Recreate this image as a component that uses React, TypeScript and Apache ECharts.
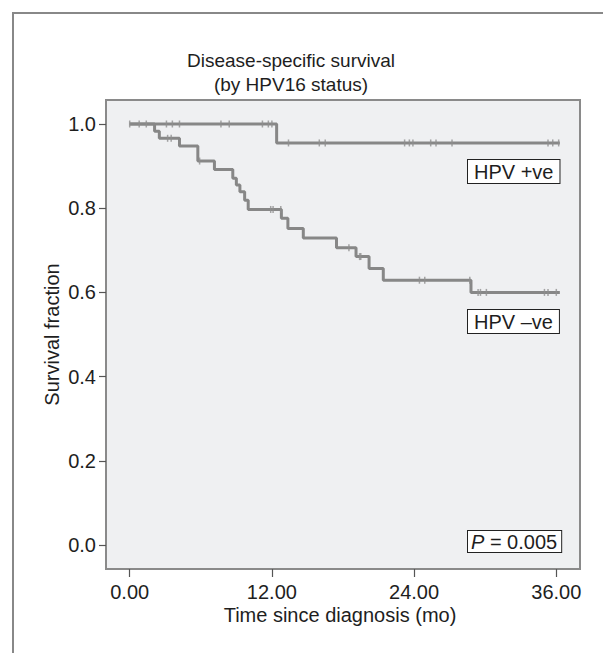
import React, { useEffect, useRef } from 'react';
import * as echarts from 'echarts';

// Axis ticks
const xTicks = [0, 12, 24, 36];
const yTicks = [0, 0.2, 0.4, 0.6, 0.8, 1.0];

// HPV +ve Kaplan-Meier curve (event times in months, survival after event)
const posEventTimes = [12.4];
const posEventSurv = [0.955];
const posEndTime = 36.3;
const posCensorTimes = [0, 3.1, 3.6, 4.2, 7.7, 8.4, 11.2, 11.7, 12.0, 13.4, 16.0, 16.5, 23.2, 23.6, 23.9, 25.4, 25.85, 27.2, 35.3, 35.7, 36.2];

// HPV -ve Kaplan-Meier curve
const negEventTimes = [2.1, 2.5, 4.2, 5.75, 7.15, 8.7, 9.0, 9.3, 9.7, 10.0, 12.8, 13.35, 14.65, 17.45, 19.1, 20.2, 21.4, 28.8];
const negEventSurv = [0.983, 0.966, 0.948, 0.912, 0.892, 0.871, 0.855, 0.839, 0.819, 0.797, 0.776, 0.752, 0.729, 0.706, 0.685, 0.657, 0.629, 0.600];
const negEndTime = 36.3;
const negCensorTimes = [0.8, 1.4, 3.2, 3.5, 5.9, 11.9, 12.1, 12.75, 18.5, 19.4, 19.5, 24.45, 24.9, 28.7, 29.4, 29.6, 30.1, 35.0, 35.3, 36.0];

const titleLines = ['Disease-specific survival', '(by HPV16 status)'];
const xName = 'Time since diagnosis (mo)';
const yName = 'Survival fraction';
const posLabel = 'HPV +ve';
const negLabel = 'HPV \u2013ve';
const pValue = '0.005';

function stepLine(times: number[], surv: number[], end: number) {
  const pts: number[][] = [[0, 1]];
  let prev = 1;
  times.forEach((t, i) => {
    pts.push([t, prev]);
    pts.push([t, surv[i]]);
    prev = surv[i];
  });
  pts.push([end, prev]);
  return pts;
}

function survAt(times: number[], surv: number[], t: number) {
  let s = 1;
  times.forEach((et, i) => {
    if (et <= t) s = surv[i];
  });
  return s;
}

const FONT = '"Liberation Sans", Arial, Helvetica, sans-serif';
const LINE = '#878787';
const TXT = '#1e1e1e';

export default function App() {
  const ref = useRef<HTMLDivElement>(null);
  useEffect(() => {
    if (!ref.current) return;
    const chart = echarts.init(ref.current, undefined, { renderer: 'svg' });
    const posLine = stepLine(posEventTimes, posEventSurv, posEndTime);
    const negLine = stepLine(negEventTimes, negEventSurv, negEndTime);
    const posCens = posCensorTimes.map((t) => [t, survAt(posEventTimes, posEventSurv, t)]);
    const negCens = negCensorTimes.map((t) => [t, survAt(negEventTimes, negEventSurv, t)]);

    const boxStyle = {
      backgroundColor: '#ffffff',
      borderColor: '#222',
      borderWidth: 1,
      fill: TXT,
      font: `20px ${FONT}`,
    };

    chart.setOption({
      animation: false,
      textStyle: { fontFamily: FONT },
      grid: {
        left: 106,
        right: 23,
        top: 100,
        bottom: 84,
        show: true,
        backgroundColor: '#eff0f2',
        borderColor: '#8a8a8a',
        borderWidth: 2,
      },
      xAxis: {
        type: 'value',
        min: -2,
        max: 38,
        name: xName,
        nameLocation: 'middle',
        nameGap: 36,
        nameMoveOverlap: false,
        nameTextStyle: { fontSize: 20, color: TXT, fontFamily: FONT, padding: [0, 6, 0, 0] },
        axisLine: { show: false, onZero: false },
        splitLine: { show: false },
        axisTick: {
          show: true,
          customValues: xTicks,
          length: 8,
          lineStyle: { color: '#555', width: 1.2 },
        },
        axisLabel: {
          customValues: xTicks,
          formatter: (v: number) => v.toFixed(2),
          fontSize: 20,
          color: TXT,
          fontFamily: FONT,
          margin: 13,
        },
      },
      yAxis: {
        type: 'value',
        min: -0.057,
        max: 1.057,
        name: yName,
        nameLocation: 'middle',
        nameGap: 44,
        nameMoveOverlap: false,
        nameTextStyle: { fontSize: 20, color: TXT, fontFamily: FONT },
        axisLine: { show: false, onZero: false },
        splitLine: { show: false },
        axisTick: {
          show: true,
          customValues: yTicks,
          length: 7,
          lineStyle: { color: '#555', width: 1.2 },
        },
        axisLabel: {
          customValues: yTicks,
          formatter: (v: number) => v.toFixed(1),
          fontSize: 20,
          color: TXT,
          fontFamily: FONT,
          margin: 10,
        },
      },
      series: [
        {
          name: posLabel,
          type: 'line',
          data: posLine,
          showSymbol: false,
          symbol: 'none',
          lineStyle: { color: LINE, width: 3 },
          z: 3,
        },
        {
          name: negLabel,
          type: 'line',
          data: negLine,
          showSymbol: false,
          symbol: 'none',
          lineStyle: { color: LINE, width: 3 },
          z: 3,
        },
        {
          type: 'scatter',
          data: posCens,
          symbol: 'rect',
          symbolSize: [1.5, 7],
          itemStyle: { color: '#8f8f8f' },
          z: 4,
        },
        {
          type: 'scatter',
          data: negCens,
          symbol: 'rect',
          symbolSize: [1.5, 7],
          itemStyle: { color: '#8f8f8f' },
          z: 4,
        },
      ],
      graphic: [
        {
          type: 'polyline',
          shape: { points: [[13, 653], [13, 13], [603, 13]] },
          style: { stroke: '#888', lineWidth: 2, fill: null },
          silent: true,
        },
        {
          type: 'text',
          x: 291,
          y: 60,
          style: {
            text: titleLines[0],
            font: `19px ${FONT}`,
            fill: TXT,
            textAlign: 'center',
            textVerticalAlign: 'middle',
          },
        },
        {
          type: 'text',
          x: 291,
          y: 84,
          style: {
            text: titleLines[1],
            font: `19px ${FONT}`,
            fill: TXT,
            textAlign: 'center',
            textVerticalAlign: 'middle',
          },
        },
        {
          type: 'text',
          x: 468,
          y: 160,
          z: 10,
          style: {
            ...boxStyle,
            text: posLabel,
            lineHeight: 21,
            padding: [1, 6, 1, 6],
            textAlign: 'left',
            textVerticalAlign: 'top',
          },
        },
        {
          type: 'text',
          x: 468,
          y: 310,
          z: 10,
          style: {
            ...boxStyle,
            text: negLabel,
            lineHeight: 21,
            padding: [1, 6, 1, 6],
            textAlign: 'left',
            textVerticalAlign: 'top',
          },
        },
        {
          type: 'text',
          x: 468,
          y: 531,
          z: 10,
          style: {
            ...boxStyle,
            text: `{i|P} = ${pValue}`,
            lineHeight: 19,
            padding: [1, 4, 1, 3],
            textAlign: 'left',
            textVerticalAlign: 'top',
            rich: {
              i: { fontStyle: 'italic', fontSize: 20, fontFamily: FONT, fill: TXT, lineHeight: 19 },
            },
          },
        },
      ],
    });
    return () => chart.dispose();
  }, []);
  return (
    <div
      ref={ref}
      style={{ position: 'fixed', left: 0, top: 0, width: 603, height: 653, background: '#fff' }}
    />
  );
}
